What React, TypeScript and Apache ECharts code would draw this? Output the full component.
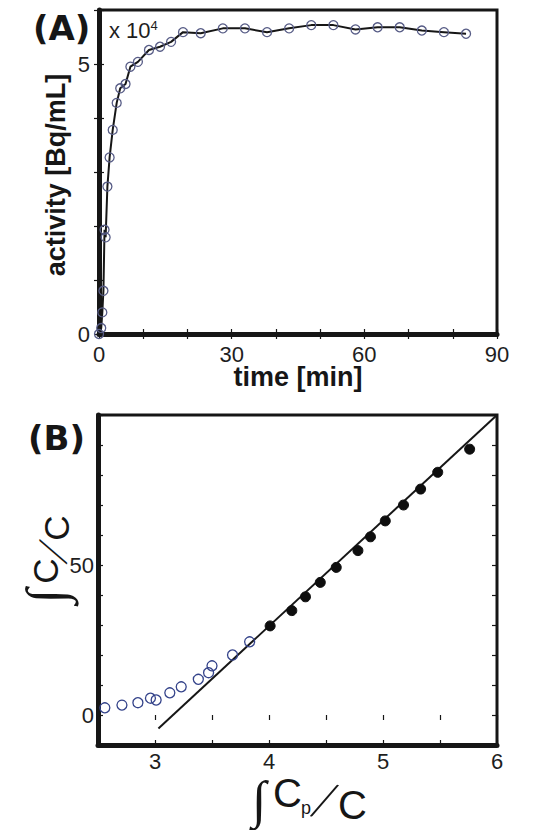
import React, { useEffect, useRef } from "react";
import * as echarts from "echarts";

// ---------- Panel A data: time-activity curve ----------
const timeA = [0, 0.5, 0.75, 1.0, 1.25, 1.5, 1.9, 2.4, 3.1, 4.0, 4.8, 6.0, 7.1, 8.8, 11.3, 13.8, 16.3, 19, 23, 28, 33, 38, 43, 48, 53, 58, 63, 68, 73, 78, 83];
const activityA = [0, 1100, 4000, 8000, 19300, 17900, 27300, 32700, 37800, 42800, 45500, 46300, 49500, 50400, 52600, 53200, 54100, 55900, 55700, 56600, 56600, 55900, 56600, 57200, 57200, 56400, 56800, 56800, 56200, 55900, 55600];
const xLabelsA = [0, 30, 60, 90];
const yLabelsA = [0, 50000];

// ---------- Panel B data: graphical plot ----------
const openX = [2.56, 2.71, 2.85, 2.96, 3.01, 3.13, 3.23, 3.38, 3.47, 3.5, 3.68, 3.83];
const openY = [2.4, 3.3, 4.1, 5.6, 5.0, 7.4, 9.4, 11.9, 14.1, 16.4, 20.0, 24.4];
const filledX = [4.01, 4.2, 4.32, 4.45, 4.59, 4.78, 4.89, 5.02, 5.18, 5.33, 5.48, 5.76];
const filledY = [29.7, 34.8, 39.4, 44.2, 49.2, 54.8, 59.4, 64.7, 70.0, 75.3, 80.9, 88.6];
const fitX = [3.03, 6];
const fitY = [-4.5, 100];
const xLabelsB = [3, 4, 5, 6];
const yLabelsB = [0, 50];

const SANS = "Arial, 'Liberation Sans', sans-serif";
const INK = "#161616";

function t(x: number, y: number, text: string, font: string, align = "left", extra: any = {}, lineHeight?: number) {
  const style: any = { text, font, fill: INK, align, verticalAlign: "middle", textAlign: align, textVerticalAlign: "middle" };
  if (lineHeight) style.lineHeight = lineHeight;
  return { type: "text", x, y, ...extra, style };
}

function ratioLabel(sub: boolean) {
  // local text frame: x along the text, y downward; origin = top-left of the first C
  const kids: any[] = [
    t(9, sub ? 21 : 14, "∫", `${sub ? 52 : 62}px 'Liberation Serif', 'Times New Roman', serif`, "center", {}, 40),
    t(23, 14.5, "C", `40px ${SANS}`, "left", {}, 32),
  ];
  if (sub) kids.push(t(51, 30, "p", `18px ${SANS}`, "left", {}, 16));
  const sx = sub ? 75 : 60;
  kids.push(t(sx, 21, "/", "300 50px Lato, 'Open Sans', sans-serif", "center", { rotation: -0.32 }, 34));
  kids.push(t(sub ? 88 : 72, 27, "C", `40px ${SANS}`, "left", {}, 32));
  return kids;
}

export default function App() {
  const ref = useRef<HTMLDivElement>(null);
  useEffect(() => {
    if (!ref.current) return;
    const chart = echarts.init(ref.current, undefined, { renderer: "svg" });
    const tickLabel = { fontFamily: SANS, fontSize: 22, color: "#1e1e1e" };
    const tick = { show: true, inside: true, length: 5, lineStyle: { color: INK, width: 1.2 } };
    const mainLine = { show: true, onZero: false, lineStyle: { color: INK, width: 5 } };

    const option: any = {
      animation: false,
      backgroundColor: "#ffffff",
      grid: [
        { left: 99, top: 10, width: 398, height: 324, show: true, borderColor: INK, borderWidth: 3, backgroundColor: "transparent" },
        { left: 98, top: 415, width: 399, height: 330, show: true, borderColor: INK, borderWidth: 3, backgroundColor: "transparent" },
      ],
      xAxis: [
        {
          type: "value", gridIndex: 0, position: "bottom", min: 0, max: 90, interval: 10,
          axisLine: mainLine, axisTick: tick, splitLine: { show: false },
          axisLabel: { ...tickLabel, margin: 9, formatter: (v: number) => (xLabelsA.includes(v) ? String(v) : "") },
        },
        {
          type: "value", gridIndex: 0, position: "top", min: 0, max: 90, interval: 10,
          axisLine: { show: false }, axisTick: tick, axisLabel: { show: false }, splitLine: { show: false },
        },
        {
          type: "value", gridIndex: 1, position: "bottom", min: 2.5, max: 6, interval: 0.5,
          axisLine: mainLine, axisTick: tick, splitLine: { show: false },
          axisLabel: { ...tickLabel, margin: 5, formatter: (v: number) => (xLabelsB.includes(v) ? String(v) : "") },
        },
        {
          type: "value", gridIndex: 1, position: "top", min: 2.5, max: 6, interval: 0.5,
          axisLine: { show: false }, axisTick: tick, axisLabel: { show: false }, splitLine: { show: false },
        },
      ],
      yAxis: [
        {
          type: "value", gridIndex: 0, position: "left", min: 0, max: 60000, interval: 10000,
          axisLine: mainLine, axisTick: tick, splitLine: { show: false },
          axisLabel: { ...tickLabel, margin: 9, formatter: (v: number) => (yLabelsA.includes(v) ? String(v / 10000) : "") },
        },
        {
          type: "value", gridIndex: 0, position: "right", min: 0, max: 60000, interval: 10000,
          axisLine: { show: false }, axisTick: tick, axisLabel: { show: false }, splitLine: { show: false },
        },
        {
          type: "value", gridIndex: 1, position: "left", min: -10, max: 100, interval: 10,
          axisLine: mainLine, axisTick: tick, splitLine: { show: false },
          axisLabel: { ...tickLabel, margin: 4, formatter: (v: number) => (yLabelsB.includes(v) ? String(v) : "") },
        },
        {
          type: "value", gridIndex: 1, position: "right", min: -10, max: 100, interval: 10,
          axisLine: { show: false }, axisTick: tick, axisLabel: { show: false }, splitLine: { show: false },
        },
      ],
      series: [
        {
          name: "activity", type: "line", xAxisIndex: 0, yAxisIndex: 0, clip: false,
          data: timeA.map((tt, i) => [tt, activityA[i]]),
          symbol: "circle", symbolSize: 9,
          lineStyle: { color: INK, width: 2 },
          itemStyle: { color: "rgba(0,0,0,0)", borderColor: "#575c86", borderWidth: 1.3, opacity: 1 },
          z: 3,
        },
        {
          name: "fit", type: "line", xAxisIndex: 2, yAxisIndex: 2, clip: false,
          data: fitX.map((x, i) => [x, fitY[i]]),
          showSymbol: false, symbol: "none",
          lineStyle: { color: INK, width: 2 }, z: 2,
        },
        {
          name: "early", type: "scatter", xAxisIndex: 2, yAxisIndex: 2, clip: false,
          data: openX.map((x, i) => [x, openY[i]]),
          symbol: "circle", symbolSize: 10,
          itemStyle: { color: "rgba(0,0,0,0)", borderColor: "#34438a", borderWidth: 1.3, opacity: 1 }, z: 3,
        },
        {
          name: "late", type: "scatter", xAxisIndex: 2, yAxisIndex: 2, clip: false,
          data: filledX.map((x, i) => [x, filledY[i]]),
          symbol: "circle", symbolSize: 10,
          itemStyle: { color: "#0e0e0e", borderColor: "#0e0e0e", borderWidth: 1, opacity: 1 }, z: 4,
        },
      ],
      graphic: [
        t(33, 28, "(A)", "bold 34px 'DejaVu Sans'"),
        t(28, 438, "(B)", "bold 34px 'DejaVu Sans'"),
        {
          type: "text", x: 109, y: 30,
          style: {
            text: "x 10{s|4}", font: `22px ${SANS}`, fill: "#1e1e1e", align: "left", verticalAlign: "middle", textAlign: "left", textVerticalAlign: "middle",
            rich: { s: { fontSize: 13, fontFamily: SANS, verticalAlign: "top", fill: "#1e1e1e", color: "#1e1e1e" } },
          },
        },
        t(298, 377, "time [min]", `bold 27px ${SANS}`, "center"),
        t(56, 175, "activity [Bq/mL]", `bold 27px ${SANS}`, "center", { rotation: Math.PI / 2 }),
        { type: "group", x: 250, y: 778, children: ratioLabel(true) },
        { type: "group", x: 33, y: 604, rotation: Math.PI / 2, scaleX: 0.88, scaleY: 0.88, children: ratioLabel(false) },
      ],
    };
    chart.setOption(option);
    return () => chart.dispose();
  }, []);
  return <div ref={ref} style={{ position: "absolute", left: 0, top: 0, width: 533, height: 830 }} />;
}
